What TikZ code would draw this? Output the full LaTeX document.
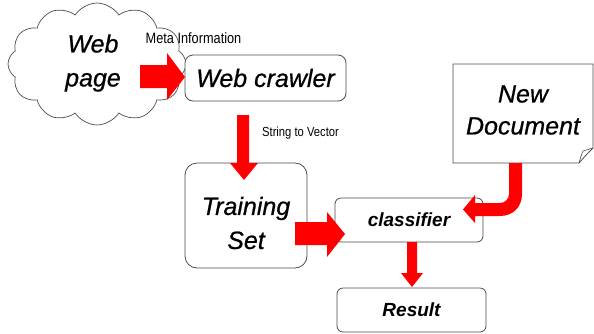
\documentclass[tikz,border=0pt]{standalone}
\usepackage{fontspec}
\setmainfont{Liberation Sans}
\newfontfamily\narrowfont[FakeStretch=0.85]{Liberation Sans}
\newfontfamily\heavyit[FakeBold=0.7]{Liberation Sans Italic}
\usetikzlibrary{shapes.symbols}
\tikzset{
  box/.style={draw=black!70, line width=0.8pt, fill=white, inner sep=0pt},
  big/.style={font=\heavyit\fontsize{25}{34}\selectfont, align=center},
  mid/.style={font=\fontsize{19}{24}\selectfont\bfseries\itshape},
  blockarrow/.style={fill=red, draw=none},
  lbl/.style={inner sep=0pt}
}
\begin{document}
\begin{tikzpicture}[x=1pt,y=-1pt]
\useasboundingbox (0,0) rectangle (594,333);
% cloud
\node[cloud, draw=black!70, line width=0.7pt, cloud puffs=12, cloud puff arc=115, aspect=1.5,
      minimum width=178pt, minimum height=122pt] (web) at (97,64) {};
\node[big] at (93,63) {Web\\page};
% web crawler
\node[box, rounded corners=8pt, minimum width=161pt, minimum height=46pt] (crawler) at (265.5,78) {};
\node[big] at (265.5,78) {Web crawler};
\node[lbl, font=\narrowfont\fontsize{15}{16}\selectfont] (meta) at (193.5,38) {Meta Information};
% training set
\node[box, rounded corners=12pt, minimum width=122pt, minimum height=105pt] (train) at (246,215.5) {};
\node[big] at (246,223) {Training\\Set};
\node[lbl, font=\narrowfont\fontsize{13.2}{15}\selectfont] (s2v) at (300.5,133) {String to Vector};
% classifier
\node[box, rounded corners=6pt, minimum width=148pt, minimum height=44pt] (clf) at (409,220) {};
\node[mid] at (409,220) {classifier};
% result
\node[box, rounded corners=6pt, minimum width=149pt, minimum height=44pt] (res) at (411.5,310) {};
\node[mid] at (411.5,310) {Result};
% new document (note)
\node[minimum width=140pt, minimum height=99pt, inner sep=0pt] (doc) at (523,113.5) {};
\draw[draw=black!70, line width=0.8pt, fill=white]
  (453,64) -- (593,64) -- (593,148) .. controls (587,154) .. (579,163) -- (453,163) -- cycle;
\draw[draw=black!70, line width=0.6pt] (579,163) .. controls (581,156) .. (583,151) -- (593,148);
\node[big, font=\heavyit\fontsize{25}{32}\selectfont] at (523,110) {New\\Document};
% block arrows
\fill[blockarrow] (140,65) -- (167,65) -- (167,53) -- (185,77) -- (167,100) -- (167,88) -- (140,88) -- cycle;
\fill[blockarrow] (237,115) -- (249,115) -- (249,163) -- (258,163) -- (244,180) -- (230,163) -- (237,163) -- cycle;
\fill[blockarrow] (295,222) -- (327,222) -- (327,212) -- (345,234) -- (327,257) -- (327,245) -- (295,245) -- cycle;
\fill[blockarrow] (407,242) -- (417,242) -- (417,273) -- (423,273) -- (412,287) -- (401,273) -- (407,273) -- cycle;
\fill[blockarrow] (509,163) -- (522,163) -- (522,194) .. controls (522,207) and (513,216) .. (500,216)
  -- (475,216) -- (475,223) -- (463,209.5) -- (475,195) -- (475,203) -- (500,203)
  .. controls (505,203) and (509,199) .. (509,194) -- cycle;
\end{tikzpicture}
\end{document}
